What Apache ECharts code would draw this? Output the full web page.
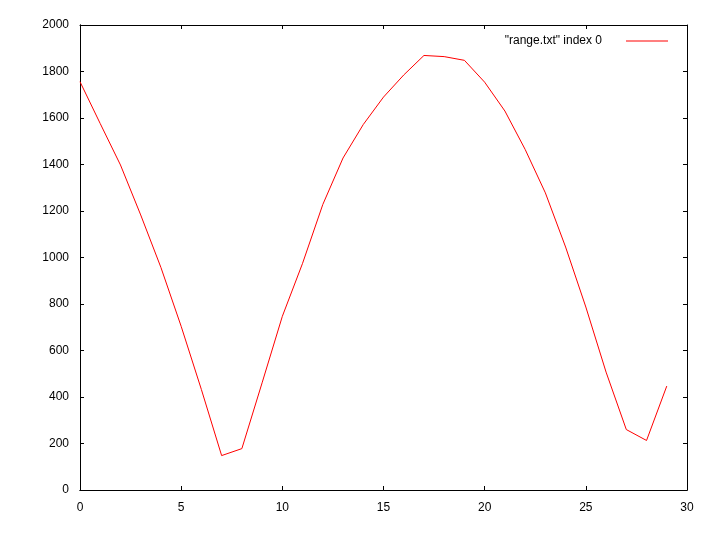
<!DOCTYPE html>
<html>
<head>
<meta charset="utf-8">
<script src="https://cdn.jsdelivr.net/npm/echarts@6/dist/echarts.min.js"></script>
<style>html,body{margin:0;padding:0;background:#fff}#c{width:720px;height:540px}</style>
</head>
<body>
<div id="c"></div>
<script>
const xValues = [0,1,2,3,4,5,6,7,8,9,10,11,12,13,14,15,16,17,18,19,20,21,22,23,24,25,26,27,28,29];
const yValues = [1756,1576,1398,1183,957,704,432,148,178,461,747,975,1228,1428,1572,1690,1785,1869,1864,1848,1754,1630,1465,1278,1045,787,507,260,213,447];
const seriesName = '"range.txt" index 0';
const xTicks = {min: 0, max: 30, interval: 5};
const yTicks = {min: 0, max: 2000, interval: 200};

const points = xValues.map((x, i) => [x, yValues[i]]);
const font = 'Liberation Sans';
const chart = echarts.init(document.getElementById('c'), null, {renderer: 'canvas'});
function axis(type, position, range, showLabel, showTick, margin) {
  return {
    type: 'value', position: position, min: range.min, max: range.max, interval: range.interval,
    axisLine: {show: true, onZero: false, lineStyle: {color: '#000', width: 1}},
    axisTick: {show: showTick, inside: true, length: 4, lineStyle: {color: '#000', width: 1}},
    axisLabel: showLabel ? {fontFamily: font, fontSize: 12, color: '#000', margin: margin, formatter: v => String(v)} : {show: false},
    splitLine: {show: false}
  };
}
chart.setOption({
  animation: false,
  backgroundColor: '#fff',
  grid: {left: 80, right: 33, top: 25, bottom: 50, containLabel: false},
  legend: {
    right: 52, top: 35, orient: 'horizontal', align: 'right', padding: 0,
    itemWidth: 42, itemHeight: 1,
    textStyle: {fontFamily: font, fontSize: 12, color: '#000', padding: [0, 19, 0, 0]},
    data: [{name: seriesName, icon: 'rect'}]
  },
  xAxis: [
    axis('x', 'bottom', xTicks, true, false, 12),
    axis('x', 'top', xTicks, false, true, 0),
    axis('x', 'bottom', xTicks, false, true, 0)
  ],
  yAxis: [
    axis('y', 'left', yTicks, true, false, 11),
    axis('y', 'right', yTicks, false, true, 0),
    axis('y', 'left', yTicks, false, true, 0)
  ],
  series: [{
    name: seriesName, type: 'line', data: points, symbol: 'none',
    color: '#ff0000',
    lineStyle: {color: '#ff0000', width: 1}
  }]
});
</script>
</body>
</html>
